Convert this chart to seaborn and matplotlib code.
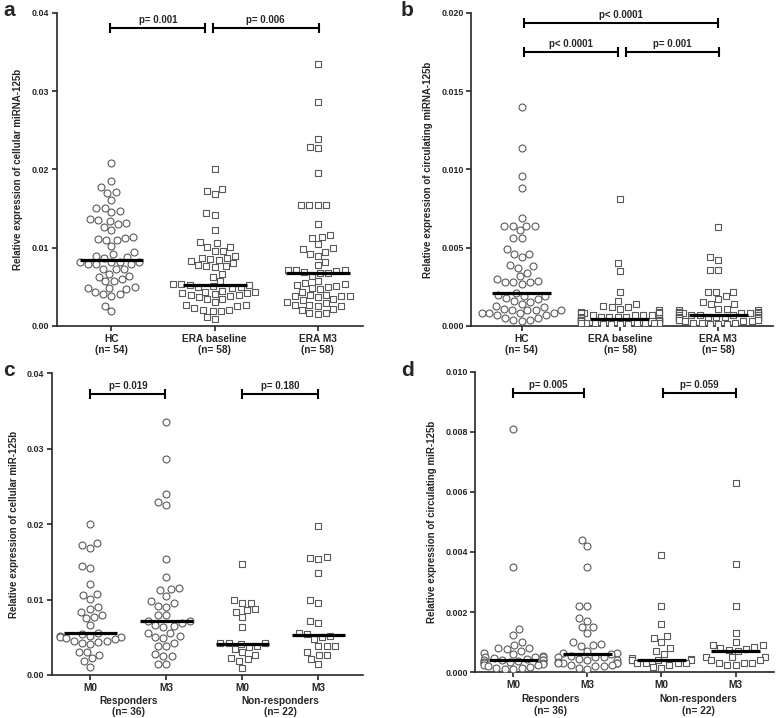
# miRNA-125b scatter panels (a-d)

import numpy as np
import pandas as pd
import matplotlib
matplotlib.use("Agg")
import matplotlib.pyplot as plt
from matplotlib.ticker import FormatStrFormatter
import seaborn as sns

# ---- data ----
a_groups = ["HC", "ERA baseline", "ERA M3"]
a_hc = [0.0208, 0.0185, 0.0177, 0.0171, 0.0170, 0.0161, 0.0151, 0.0151, 0.0147, 0.0145,
        0.0137, 0.0135, 0.0134, 0.0132, 0.0130, 0.0127, 0.0123, 0.0114, 0.0113, 0.0111,
        0.0110, 0.0110, 0.0102, 0.0094, 0.0092, 0.0090, 0.0088, 0.0087, 0.0082, 0.0082,
        0.0082, 0.0082, 0.0079, 0.0079, 0.0079, 0.0073, 0.0073, 0.0073, 0.0066, 0.0064,
        0.0063, 0.0060, 0.0057, 0.0057, 0.0050, 0.0049, 0.0048, 0.0047, 0.0043, 0.0041,
        0.0041, 0.0038, 0.0026, 0.0019]
a_base = [0.0200, 0.0175, 0.0173, 0.0169, 0.0144, 0.0142, 0.0122, 0.0107, 0.0106, 0.0101,
          0.0101, 0.0096, 0.0096, 0.0090, 0.0087, 0.0087, 0.0085, 0.0084, 0.0083, 0.0080,
          0.0078, 0.0076, 0.0076, 0.0075, 0.0067, 0.0063, 0.0057, 0.0054, 0.0053, 0.0052,
          0.0052, 0.0051, 0.0050, 0.0050, 0.0048, 0.0045, 0.0044, 0.0044, 0.0042, 0.0042,
          0.0041, 0.0040, 0.0039, 0.0038, 0.0037, 0.0034, 0.0034, 0.0030, 0.0027, 0.0027,
          0.0025, 0.0023, 0.0021, 0.0021, 0.0019, 0.0019, 0.0012, 0.0009]
a_m3 = [0.0335, 0.0286, 0.0239, 0.0229, 0.0227, 0.0196, 0.0155, 0.0155, 0.0154, 0.0155,
        0.0130, 0.0116, 0.0114, 0.0112, 0.0105, 0.0099, 0.0098, 0.0095, 0.0092, 0.0090,
        0.0082, 0.0078, 0.0072, 0.0071, 0.0071, 0.0070, 0.0069, 0.0068, 0.0068, 0.0064,
        0.0057, 0.0055, 0.0054, 0.0052, 0.0051, 0.0050, 0.0049, 0.0047, 0.0044, 0.0040,
        0.0039, 0.0038, 0.0038, 0.0038, 0.0037, 0.0034, 0.0033, 0.0030, 0.0029, 0.0027,
        0.0027, 0.0026, 0.0026, 0.0022, 0.0021, 0.0016, 0.0016, 0.0015]
a_medians = [0.0084, 0.0052, 0.0068]

b_hc = [0.0140, 0.0114, 0.0096, 0.0088, 0.0069, 0.0064, 0.0064, 0.0064, 0.0064, 0.0061,
        0.0056, 0.0056, 0.0049, 0.0046, 0.0046, 0.0044, 0.0039, 0.0038, 0.0037, 0.0034,
        0.0032, 0.0030, 0.0029, 0.0028, 0.0028, 0.0028, 0.0027, 0.0021, 0.0020, 0.0019,
        0.0019, 0.0018, 0.0017, 0.0016, 0.0015, 0.0014, 0.0013, 0.0012, 0.0011, 0.0010,
        0.0010, 0.0010, 0.0010, 0.0008, 0.0008, 0.0008, 0.0008, 0.0007, 0.0007, 0.0005,
        0.0005, 0.0004, 0.0004, 0.0003]
b_base = [0.0081, 0.0040, 0.0035, 0.0022, 0.0016, 0.0014, 0.0013, 0.0012, 0.0012, 0.0011,
          0.0010, 0.0009, 0.0009, 0.0008, 0.0008, 0.0008, 0.0008, 0.0008, 0.0007, 0.0007,
          0.0007, 0.0007, 0.0006, 0.0006, 0.0006, 0.0006, 0.0006, 0.0005, 0.0005, 0.0005,
          0.0005, 0.0004, 0.0004, 0.0004, 0.0004, 0.0004, 0.0004, 0.0004, 0.0004, 0.0003,
          0.0003, 0.0003, 0.0003, 0.0003, 0.0003, 0.0003, 0.0003, 0.0002, 0.0002, 0.0002,
          0.0002, 0.0002, 0.0002, 0.0002, 0.0001, 0.0001, 0.0001, 0.0001]
b_m3 = [0.0063, 0.0044, 0.0042, 0.0036, 0.0036, 0.0022, 0.0022, 0.0022, 0.0019, 0.0017,
        0.0015, 0.0014, 0.0014, 0.0011, 0.0011, 0.0010, 0.0010, 0.0009, 0.0009, 0.0009,
        0.0009, 0.0008, 0.0008, 0.0008, 0.0008, 0.0008, 0.0008, 0.0007, 0.0007, 0.0007,
        0.0007, 0.0007, 0.0007, 0.0006, 0.0006, 0.0006, 0.0006, 0.0006, 0.0006, 0.0005,
        0.0005, 0.0005, 0.0005, 0.0005, 0.0005, 0.0004, 0.0004, 0.0004, 0.0003, 0.0003,
        0.0003, 0.0002, 0.0002, 0.0002, 0.0001, 0.0001, 0.0001, 0.0004]
b_medians = [0.0021, 0.00042, 0.00068]

cd_groups = ["R_M0", "R_M3", "N_M0", "N_M3"]
cd_ticks = ["M0", "M3", "M0", "M3"]
c_r_m0 = [0.0200, 0.0175, 0.0172, 0.0168, 0.0144, 0.0142, 0.0121, 0.0107, 0.0106, 0.0101,
          0.0090, 0.0087, 0.0084, 0.0080, 0.0077, 0.0075, 0.0066, 0.0056, 0.0054, 0.0052,
          0.0051, 0.0050, 0.0050, 0.0049, 0.0048, 0.0045, 0.0045, 0.0044, 0.0043, 0.0041,
          0.0031, 0.0031, 0.0026, 0.0022, 0.0018, 0.0011]
c_r_m3 = [0.0336, 0.0286, 0.0240, 0.0229, 0.0226, 0.0154, 0.0130, 0.0115, 0.0114, 0.0112,
          0.0105, 0.0098, 0.0095, 0.0092, 0.0090, 0.0080, 0.0079, 0.0071, 0.0071, 0.0069,
          0.0066, 0.0065, 0.0063, 0.0056, 0.0056, 0.0051, 0.0050, 0.0049, 0.0043, 0.0039,
          0.0039, 0.0028, 0.0025, 0.0025, 0.0015, 0.0015]
c_n_m0 = [0.0147, 0.0099, 0.0096, 0.0096, 0.0087, 0.0086, 0.0084, 0.0077, 0.0063, 0.0042,
          0.0042, 0.0042, 0.0041, 0.0039, 0.0037, 0.0034, 0.0030, 0.0026, 0.0022, 0.0021,
          0.0019, 0.0009]
c_n_m3 = [0.0197, 0.0156, 0.0155, 0.0154, 0.0135, 0.0099, 0.0096, 0.0072, 0.0069, 0.0055,
          0.0054, 0.0052, 0.0050, 0.0047, 0.0038, 0.0038, 0.0038, 0.0030, 0.0027, 0.0026,
          0.0021, 0.0015]
c_medians = [0.0055, 0.0071, 0.0041, 0.0053]

d_r_m0 = [0.0081, 0.0035, 0.00143, 0.00124, 0.0010, 0.0009, 0.0008, 0.0008, 0.00077, 0.0007,
          0.00064, 0.0006, 0.00054, 0.0005, 0.0005, 0.0005, 0.00048, 0.00045, 0.0004, 0.0004,
          0.0004, 0.0004, 0.00038, 0.00035, 0.00033, 0.0003, 0.0003, 0.00028, 0.00025, 0.00022,
          0.0002, 0.00018, 0.00015, 0.00012, 0.0001, 0.0001]
d_r_m3 = [0.0044, 0.0042, 0.0035, 0.0022, 0.0022, 0.0018, 0.0017, 0.0015, 0.0015, 0.0013,
          0.0010, 0.00095, 0.0009, 0.00087, 0.0007, 0.00065, 0.00063, 0.0006, 0.00054, 0.0005,
          0.0005, 0.0005, 0.00045, 0.0004, 0.0004, 0.00035, 0.0003, 0.0003, 0.0003, 0.0003,
          0.00025, 0.00025, 0.0002, 0.0002, 0.00015, 0.0001]
d_n_m0 = [0.0039, 0.0022, 0.0016, 0.00115, 0.0012, 0.0010, 0.0008, 0.0007, 0.0006, 0.00047,
          0.00044, 0.0004, 0.0004, 0.0004, 0.0004, 0.0003, 0.0003, 0.0003, 0.0003, 0.00025,
          0.00017, 0.00015]
d_n_m3 = [0.0063, 0.0036, 0.0022, 0.0013, 0.0010, 0.0009, 0.0009, 0.00085, 0.0008, 0.00078,
          0.00074, 0.0007, 0.0005, 0.0005, 0.0005, 0.0004, 0.0004, 0.0003, 0.0003, 0.0003,
          0.00025, 0.00025]
d_medians = [0.00039, 0.00059, 0.0004, 0.0007]

sns.set_style("ticks")
plt.rcParams['font.family'] = ['Liberation Sans', 'DejaVu Sans']
plt.rcParams['font.weight'] = 'bold'
plt.rcParams['axes.linewidth'] = 1.2
FS = 7.3      # x labels
YFS = 6.4     # y tick labels
LFS = 7.0     # y axis title / p values
EDGE = '#5a5a5a'


def draw(ax, order, values, markers, medians, half, ylim, fmt, ylabel, bars):
    for g, vals, mk in zip(order, values, markers):
        df = pd.DataFrame({'grp': g, 'val': vals})
        sns.swarmplot(data=df, x='grp', y='val', order=order, ax=ax, marker=mk,
                      size=5, color='white', edgecolor=EDGE, linewidth=0.8,
                      warn_thresh=1)
    ax.hlines(medians, np.arange(len(order)) - half, np.arange(len(order)) + half,
              color='black', lw=2.3, zorder=5)
    for x0, x1, y, txt in bars:
        ax.plot([x0, x1], [y, y], color='black', lw=1.5, marker='|',
                markersize=7, mew=1.5, solid_capstyle='butt')
        ax.annotate(txt, ((x0 + x1) / 2, y), xytext=(0, 2), textcoords='offset points',
                    ha='center', va='bottom', fontsize=LFS, fontweight='bold')
    ax.set_ylim(*ylim)
    ax.yaxis.set_major_formatter(FormatStrFormatter(fmt))
    ax.set_ylabel(ylabel, fontsize=LFS, fontweight='bold', labelpad=6)
    ax.set_xlabel('')
    ax.tick_params(axis='both', direction='out', length=3.5, width=1.2, pad=2)
    ax.tick_params(axis='y', labelsize=YFS)
    for lab in ax.get_yticklabels():
        lab.set_fontweight('bold')
    sns.despine(ax=ax)


fig = plt.figure(figsize=(7.78, 7.18), dpi=100)
ax_a = fig.add_axes([0.073, 0.546, 0.394, 0.436])
ax_b = fig.add_axes([0.606, 0.546, 0.388, 0.436])
ax_c = fig.add_axes([0.067, 0.060, 0.400, 0.420])
ax_d = fig.add_axes([0.611, 0.064, 0.384, 0.418])

draw(ax_a, a_groups, [a_hc, a_base, a_m3], ['o', 's', 's'], a_medians, 0.31,
     (0, 0.04), '%.2f', 'Relative expression of cellular miRNA-125b',
     [(-0.01, 0.91, 0.0381, 'p= 0.001'), (0.98, 2.01, 0.0381, 'p= 0.006')])
ax_a.set_xlim(-0.53, 2.44)
ax_a.set_yticks([0, 0.01, 0.02, 0.03, 0.04])

draw(ax_b, a_groups, [b_hc, b_base, b_m3], ['o', 's', 's'], b_medians, 0.30,
     (0, 0.020), '%.3f', 'Relative expression of circulating miRNA-125b',
     [(0.02, 2.0, 0.01936, 'p< 0.0001'), (0.02, 0.98, 0.0175, 'p< 0.0001'),
      (1.06, 2.01, 0.0175, 'p= 0.001')])
ax_b.set_xlim(-0.51, 2.56)
ax_b.set_yticks([0, 0.005, 0.010, 0.015, 0.020])

n_labels = ["HC\n(n= 54)", "ERA baseline\n(n= 58)", "ERA M3\n(n= 58)"]
for ax in (ax_a, ax_b):
    ax.set_xticks(range(3))
    ax.set_xticklabels(n_labels, fontsize=FS, fontweight='bold', linespacing=1.15)

draw(ax_c, cd_groups, [c_r_m0, c_r_m3, c_n_m0, c_n_m3], ['o', 'o', 's', 's'], c_medians,
     0.35, (0, 0.04), '%.2f', 'Relative expression of cellular miR-125b',
     [(0.0, 0.99, 0.0373, 'p= 0.019'), (2.0, 3.0, 0.0373, 'p= 0.180')])
ax_c.set_xlim(-0.5, 3.59)
ax_c.set_yticks([0, 0.01, 0.02, 0.03, 0.04])

draw(ax_d, cd_groups, [d_r_m0, d_r_m3, d_n_m0, d_n_m3], ['o', 'o', 's', 's'], d_medians,
     0.33, (0, 0.010), '%.3f', 'Relative expression of circulating miR-125b',
     [(0.0, 0.95, 0.00931, 'p= 0.005'), (2.02, 3.0, 0.00931, 'p= 0.059')])
ax_d.set_xlim(-0.51, 3.52)
ax_d.set_yticks([0, 0.002, 0.004, 0.006, 0.008, 0.010])

for ax, off in ((ax_c, -15), (ax_d, -16)):
    ax.set_xticks(range(4))
    ax.set_xticklabels(cd_ticks, fontsize=FS, fontweight='bold')
    for xc, txt in ((0.5, "Responders\n(n= 36)"), (2.5, "Non-responders\n(n= 22)")):
        ax.annotate(txt, (xc, 0), xycoords=('data', 'axes fraction'), xytext=(0, off),
                    textcoords='offset points', ha='center', va='top', fontsize=FS,
                    fontweight='bold', linespacing=1.2)

for x, y, letter in ((0.004, 0.998, 'a'), (0.515, 0.998, 'b'),
                     (0.004, 0.497, 'c'), (0.515, 0.497, 'd')):
    fig.text(x, y, letter, fontsize=15, fontweight='bold', va='top', ha='left')

fig.savefig('out.png', dpi=100)
